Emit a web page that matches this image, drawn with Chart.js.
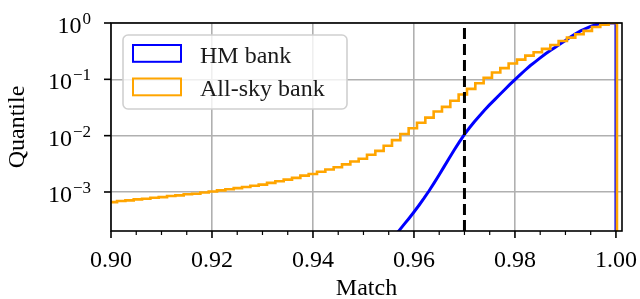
<!DOCTYPE html>
<html>
<head>
<meta charset="utf-8">
<script src="https://cdn.jsdelivr.net/npm/chart.js@4.4.1/dist/chart.umd.min.js"></script>
<style>
  html, body { margin: 0; padding: 0; background: #fff; }
</style>
</head>
<body>
<canvas id="chart" width="640" height="299"></canvas>
<script>
// HM bank: cumulative quantile vs match (fine bins)
const hmMatch = [0.956, 0.957, 0.958, 0.959, 0.960, 0.961, 0.962, 0.963, 0.964, 0.965,
  0.966, 0.967, 0.968, 0.969, 0.970, 0.971, 0.972, 0.973, 0.974, 0.975,
  0.976, 0.977, 0.978, 0.979, 0.980, 0.981, 0.982, 0.983, 0.984, 0.985,
  0.986, 0.987, 0.988, 0.989, 0.990, 0.991, 0.992, 0.993, 0.994, 0.995,
  0.996, 0.997, 0.998, 1.000];
const hmQuantile = [1.6e-4, 2.04e-4, 2.63e-4, 3.39e-4, 4.42e-4, 5.82e-4, 7.76e-4, 1.05e-3, 1.45e-3, 2.02e-3,
  2.85e-3, 4.03e-3, 5.62e-3, 7.76e-3, 1.05e-2, 1.38e-2, 1.78e-2, 2.26e-2, 2.85e-2, 3.55e-2,
  4.37e-2, 5.37e-2, 6.61e-2, 8.13e-2, 0.099, 0.120, 0.145, 0.174, 0.204, 0.240,
  0.282, 0.324, 0.372, 0.427, 0.490, 0.562, 0.646, 0.724, 0.794, 0.871,
  0.933, 0.977, 1.0, 1.0];

// All-sky bank: histogram bin edges and cumulative quantile per bin
const skyEdges = [0.89955, 0.90120, 0.90285, 0.90450, 0.90615, 0.90780, 0.90945, 0.91110, 0.91275, 0.91440,
  0.91605, 0.91770, 0.91935, 0.92100, 0.92265, 0.92430, 0.92595, 0.92760, 0.92925, 0.93090,
  0.93255, 0.93420, 0.93585, 0.93750, 0.93915, 0.94080, 0.94245, 0.94410, 0.94575, 0.94740,
  0.94905, 0.95070, 0.95235, 0.95400, 0.95565, 0.95730, 0.95895, 0.96060, 0.96225, 0.96390,
  0.96555, 0.96720, 0.96885, 0.97050, 0.97215, 0.97380, 0.97545, 0.97710, 0.97875, 0.98040,
  0.98205, 0.98370, 0.98535, 0.98700, 0.98865, 0.99030, 0.99195, 0.99360, 0.99525, 0.99690,
  0.99855, 1.00020];
const skyQuantile = [6.6e-4, 6.9e-4, 7.1e-4, 7.4e-4, 7.6e-4, 7.9e-4, 8.1e-4, 8.5e-4, 8.7e-4, 9.1e-4,
  9.3e-4, 9.8e-4, 1.02e-3, 1.07e-3, 1.12e-3, 1.17e-3, 1.23e-3, 1.29e-3, 1.35e-3, 1.45e-3,
  1.55e-3, 1.66e-3, 1.78e-3, 1.95e-3, 2.09e-3, 2.29e-3, 2.51e-3, 2.75e-3, 3.09e-3, 3.47e-3,
  3.89e-3, 4.57e-3, 5.37e-3, 6.61e-3, 8.32e-3, 1.07e-2, 1.35e-2, 1.70e-2, 2.09e-2, 2.69e-2,
  3.24e-2, 4.17e-2, 5.37e-2, 6.76e-2, 8.51e-2, 0.107, 0.132, 0.158, 0.191, 0.224,
  0.263, 0.302, 0.347, 0.407, 0.479, 0.550, 0.631, 0.724, 0.850, 0.930,
  1.0];

const cutMatch = 0.97;
const xMin = 0.90, xMax = 1.0012;
const yMin = 2.03e-4, yMax = 1;
const xTicks = [0.90, 0.92, 0.94, 0.96, 0.98, 1.00];
const xMinorStep = 0.005;
const yTicks = [1e-3, 1e-2, 1e-1, 1];
const yTickExp = ['\u22123', '\u22122', '\u22121', '0'];

const FONT = 'Liberation Serif';

// step-before points: value of bin i spans [edge i, edge i+1], then drop at last edge
function skyPoints() {
  const pts = skyQuantile.map((q, i) => ({ x: skyEdges[i], y: q }));
  const last = skyEdges[skyEdges.length - 1];
  pts.push({ x: last, y: skyQuantile[skyQuantile.length - 1] });
  pts.push({ x: last, y: yMin });
  return pts;
}
function hmPoints() {
  const pts = hmQuantile.map((q, i) => ({ x: hmMatch[i], y: q }));
  pts.push({ x: hmMatch[hmMatch.length - 1], y: yMin });
  return pts;
}

const decorations = {
  id: 'decorations',
  afterDraw(chart) {
    const { ctx, chartArea: a, scales: { x, y } } = chart;
    ctx.save();
    // spines
    ctx.strokeStyle = '#000';
    ctx.lineWidth = 1.6;
    ctx.strokeRect(a.left, a.top, a.right - a.left, a.bottom - a.top);
    // x ticks, major and minor
    for (let v = xMin; v <= 1.0 + 1e-9; v += xMinorStep) {
      const major = xTicks.some(t => Math.abs(t - v) < 1e-6);
      const px = x.getPixelForValue(v);
      ctx.lineWidth = major ? 1.6 : 1.2;
      ctx.beginPath();
      ctx.moveTo(px, a.bottom);
      ctx.lineTo(px, a.bottom + (major ? 7 : 4));
      ctx.stroke();
    }
    // y ticks with 10^n labels
    ctx.lineWidth = 1.6;
    ctx.fillStyle = '#000';
    yTicks.forEach((v, i) => {
      const py = y.getPixelForValue(v);
      ctx.beginPath();
      ctx.moveTo(a.left, py);
      ctx.lineTo(a.left - 7, py);
      ctx.stroke();
      const right = a.left - 20;
      ctx.textAlign = 'right';
      ctx.textBaseline = 'alphabetic';
      ctx.font = '17px "' + FONT + '"';
      const ew = ctx.measureText(yTickExp[i]).width;
      ctx.fillText(yTickExp[i], right, py + 1);
      ctx.font = '24px "' + FONT + '"';
      ctx.fillText('10', right - ew - 1, py + 10);
    });
    // legend
    const lx = 123, ly = 35, lw = 224, lh = 74;
    ctx.beginPath();
    ctx.roundRect(lx, ly, lw, lh, 5);
    ctx.fillStyle = 'rgba(255,255,255,0.8)';
    ctx.fill();
    ctx.strokeStyle = '#d0d0d0';
    ctx.lineWidth = 1.6;
    ctx.stroke();
    const items = chart.data.datasets.filter(d => d.label);
    items.forEach((d, i) => {
      const top = 45 + i * 33.5;
      ctx.strokeStyle = d.borderColor;
      ctx.lineWidth = 2;
      ctx.strokeRect(133, top, 48, 16.8);
      ctx.fillStyle = '#1a1a1a';
      ctx.font = '24px "' + FONT + '"';
      ctx.textAlign = 'left';
      ctx.textBaseline = 'alphabetic';
      ctx.fillText(d.label, 200, top + 17.5);
    });
    ctx.restore();
  }
};

new Chart(document.getElementById('chart'), {
  type: 'line',
  data: {
    datasets: [
      {
        label: 'HM bank',
        data: hmPoints(),
        borderColor: '#0000ff',
        backgroundColor: 'rgba(0,0,0,0)',
        borderWidth: 3,
        pointRadius: 0,
        fill: false,
        order: 2
      },
      {
        label: 'All-sky bank',
        data: skyPoints(),
        borderColor: '#ffa500',
        backgroundColor: 'rgba(0,0,0,0)',
        borderWidth: 2.6,
        pointRadius: 0,
        stepped: 'before',
        fill: false,
        order: 1
      },
      {
        label: '',
        data: [{ x: cutMatch, y: yMin }, { x: cutMatch, y: yMax }],
        borderColor: '#000',
        borderWidth: 3,
        borderDash: [11, 5],
        pointRadius: 0,
        fill: false,
        order: 0
      }
    ]
  },
  options: {
    responsive: false,
    animation: false,
    devicePixelRatio: 1,
    layout: { padding: { top: 23, right: 18, left: 0, bottom: 0 } },
    plugins: { legend: { display: false }, tooltip: { enabled: false } },
    scales: {
      x: {
        type: 'linear',
        min: xMin,
        max: xMax,
        afterBuildTicks: s => { s.ticks = xTicks.map(v => ({ value: v })); },
        afterFit: s => { s.height = 68; s.paddingLeft = 0; s.paddingRight = 0; },
        grid: { color: '#b0b0b0', lineWidth: 1.6, drawTicks: false },
        border: { display: false },
        ticks: {
          padding: 15,
          color: '#000',
          autoSkip: false,
          maxRotation: 0,
          font: { family: FONT, size: 24 },
          callback: v => v.toFixed(2)
        },
        title: {
          display: true, text: 'Match', color: '#000',
          font: { family: FONT, size: 24, lineHeight: 1 },
          padding: { top: 0, bottom: -2 }
        }
      },
      y: {
        type: 'logarithmic',
        min: yMin,
        max: yMax,
        afterBuildTicks: s => { s.ticks = yTicks.map(v => ({ value: v })); },
        afterFit: s => { s.width = 111; s.paddingTop = 0; s.paddingBottom = 0; },
        grid: { color: '#b0b0b0', lineWidth: 1.6, drawTicks: false },
        border: { display: false },
        ticks: { display: false },
        title: { display: true, text: 'Quantile', color: '#000', font: { family: FONT, size: 24 }, padding: 3 }
      }
    }
  },
  plugins: [decorations]
});
</script>
</body>
</html>
